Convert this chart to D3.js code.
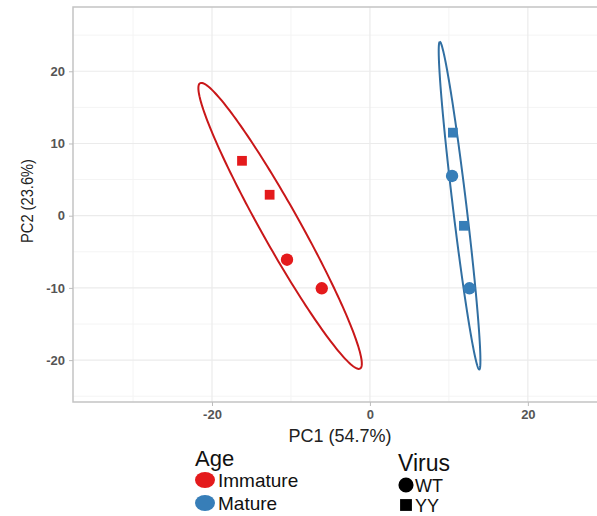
<!DOCTYPE html>
<html>
<head>
<meta charset="utf-8">
<script src="https://cdn.jsdelivr.net/npm/d3@7"></script>
<style>
  body { margin: 0; background: #fff; }
  text { font-family: "Liberation Sans", Arial, sans-serif; }
</style>
</head>
<body>
<div class="canvas"></div>
<script>
// data.
const sampleAge = ['Immature', 'Immature', 'Immature', 'Immature', 'Mature', 'Mature', 'Mature', 'Mature'];
const sampleVirus = ['YY', 'YY', 'WT', 'WT', 'YY', 'WT', 'YY', 'WT'];
const pc1 = [-16.2, -12.7, -10.5, -6.1, 10.5, 10.4, 11.9, 12.6];
const pc2 = [7.6, 2.9, -6.1, -10.05, 11.5, 5.5, -1.4, -10.05];
const ageLevels = ['Immature', 'Mature'];
const virusLevels = ['WT', 'YY'];
const xTicks = [-20, 0, 20];
const yTicks = [-20, -10, 0, 10, 20];
const xMinor = [-30, -10, 10, 30];
const yMinor = [-25, -15, -5, 5, 15, 25];

// dimensions.
const svgDimensions = { width: 597, height: 516 };
const panel = { left: 73, top: 7, right: 610, bottom: 402 };

const svg = d3.select('.canvas')
    .append('svg')
        .attr('width', svgDimensions.width)
        .attr('height', svgDimensions.height);

const x = d3.scaleLinear().domain([-37.6, 30.4]).range([panel.left, panel.right]);
const y = d3.scaleLinear().domain([-25.8, 28.9]).range([panel.bottom, panel.top]);

const colour = d3.scaleOrdinal().domain(ageLevels).range(['#e41a1c', '#377eb8']);

const points = pc1.map((v, i) => ({ x: v, y: pc2[i], age: sampleAge[i], virus: sampleVirus[i] }));

// grid lines.
const grid = svg.append('g');
grid.selectAll('.vminor').data(xMinor).enter().append('line')
    .attr('x1', d => x(d)).attr('x2', d => x(d))
    .attr('y1', panel.top).attr('y2', panel.bottom)
    .attr('stroke', '#f4f4f4').attr('stroke-width', 1);
grid.selectAll('.hminor').data(yMinor).enter().append('line')
    .attr('y1', d => y(d)).attr('y2', d => y(d))
    .attr('x1', panel.left).attr('x2', panel.right)
    .attr('stroke', '#f4f4f4').attr('stroke-width', 1);
grid.selectAll('.vmajor').data(xTicks).enter().append('line')
    .attr('x1', d => x(d)).attr('x2', d => x(d))
    .attr('y1', panel.top).attr('y2', panel.bottom)
    .attr('stroke', '#ebebeb').attr('stroke-width', 1.2);
grid.selectAll('.hmajor').data(yTicks).enter().append('line')
    .attr('y1', d => y(d)).attr('y2', d => y(d))
    .attr('x1', panel.left).attr('x2', panel.right)
    .attr('stroke', '#ebebeb').attr('stroke-width', 1.2);

// panel border.
svg.append('path')
    .attr('d', `M${panel.right},${panel.top}H${panel.left}V${panel.bottom}H${panel.right}`)
    .attr('fill', 'none')
    .attr('stroke', '#c4c4c4')
    .attr('stroke-width', 1.5);

// axes.
const xAxis = svg.append('g')
    .attr('transform', `translate(0,${panel.bottom})`)
    .call(d3.axisBottom(x).tickValues(xTicks).tickSize(4).tickPadding(4).tickFormat(d => String(d)));
const yAxis = svg.append('g')
    .attr('transform', `translate(${panel.left},0)`)
    .call(d3.axisLeft(y).tickValues(yTicks).tickSize(4).tickPadding(4).tickFormat(d => String(d)));
[xAxis, yAxis].forEach(a => {
    a.select('.domain').remove();
    a.selectAll('line').attr('stroke', '#bdbdbd');
    a.selectAll('text')
        .attr('fill', '#555')
        .attr('font-size', 13)
        .attr('font-weight', 'bold')
        .style('font-family', '"Liberation Sans", Arial, sans-serif');
});

// confidence ellipses (normal, 95%).
const chi2 = 5.991;
const ellipse = (pts) => {
    const n = pts.length;
    const mx = d3.mean(pts, d => d.x), my = d3.mean(pts, d => d.y);
    const sxx = d3.sum(pts, d => (d.x - mx) ** 2) / (n - 1);
    const syy = d3.sum(pts, d => (d.y - my) ** 2) / (n - 1);
    const sxy = d3.sum(pts, d => (d.x - mx) * (d.y - my)) / (n - 1);
    const tr = sxx + syy, det = sxx * syy - sxy * sxy;
    const disc = Math.sqrt(tr * tr / 4 - det);
    const l1 = tr / 2 + disc, l2 = tr / 2 - disc;
    const theta = Math.atan2(l1 - sxx, sxy);
    const a = Math.sqrt(chi2 * l1), b = Math.sqrt(chi2 * Math.max(l2, 0));
    return d3.range(0, 201).map(k => {
        const t = 2 * Math.PI * k / 200;
        const ex = a * Math.cos(t), ey = b * Math.sin(t);
        return [mx + ex * Math.cos(theta) - ey * Math.sin(theta),
                my + ex * Math.sin(theta) + ey * Math.cos(theta)];
    });
};

const lineGenerator = d3.line().x(d => x(d[0])).y(d => y(d[1]));

svg.append('g').selectAll('path')
    .data(ageLevels)
    .enter().append('path')
        .attr('d', g => lineGenerator(ellipse(points.filter(p => p.age === g))))
        .attr('fill', 'none')
        .attr('stroke', g => d3.color(colour(g)).darker(0.35))
        .attr('stroke-width', 2);

// points.
const shape = d3.scaleOrdinal().domain(virusLevels).range([d3.symbolCircle, d3.symbolSquare]);
const size = d3.scaleOrdinal().domain(virusLevels).range([120, 95]);

svg.append('g').selectAll('path')
    .data(points)
    .enter().append('path')
        .attr('transform', d => `translate(${x(d.x)},${y(d.y)})`)
        .attr('d', d => d3.symbol().type(shape(d.virus)).size(size(d.virus))())
        .attr('fill', d => colour(d.age));

// axis titles.
svg.append('text')
    .attr('x', 340).attr('y', 442)
    .attr('text-anchor', 'middle')
    .attr('font-size', 18)
    .attr('fill', '#222')
    .text('PC1 (54.7%)');

svg.append('text')
    .attr('transform', 'translate(33,201) rotate(-90)')
    .attr('text-anchor', 'middle')
    .attr('font-size', 17)
    .attr('textLength', 84)
    .attr('lengthAdjust', 'spacingAndGlyphs')
    .attr('fill', '#222')
    .text('PC2 (23.6%)');

// legends.
const ageLegend = svg.append('g').attr('transform', 'translate(195,0)');
ageLegend.append('text')
    .attr('x', 0).attr('y', 466)
    .attr('font-size', 22)
    .attr('fill', '#111')
    .text('Age');
const ageItems = ageLegend.selectAll('.item')
    .data(ageLevels)
    .enter().append('g')
        .attr('transform', (d, i) => `translate(0,${480 + i * 23})`);
ageItems.append('ellipse')
    .attr('cx', 10).attr('cy', 0)
    .attr('rx', 10).attr('ry', 8)
    .attr('fill', d => colour(d));
ageItems.append('text')
    .attr('x', 23).attr('y', 7)
    .attr('font-size', 19)
    .attr('fill', '#111')
    .text(d => d);

const virusLegend = svg.append('g').attr('transform', 'translate(398,0)');
virusLegend.append('text')
    .attr('x', 0).attr('y', 471)
    .attr('font-size', 23)
    .attr('fill', '#111')
    .text('Virus');
const virusItems = virusLegend.selectAll('.item')
    .data(virusLevels)
    .enter().append('g')
        .attr('transform', (d, i) => `translate(8,${485 + i * 20})`);
virusItems.append('path')
    .attr('d', d => d3.symbol().type(shape(d)).size(d === 'WT' ? 180 : 140)())
    .attr('fill', '#000');
virusItems.append('text')
    .attr('x', 9).attr('y', 6.5)
    .attr('font-size', 18)
    .attr('fill', '#111')
    .text(d => d);
</script>
</body>
</html>
